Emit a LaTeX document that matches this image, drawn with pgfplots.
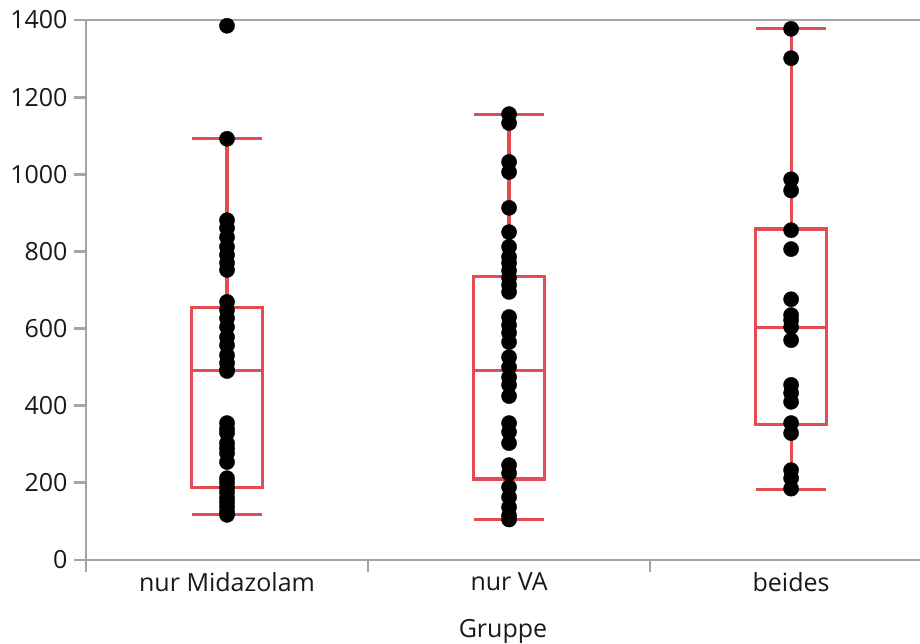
\documentclass[border=0pt]{standalone}
\usepackage{fontspec}
\setmainfont{Open Sans}
\usepackage{pgfplots}
\pgfplotsset{compat=1.18}
\usepgfplotslibrary{statistics}
\definecolor{boxred}{RGB}{226,76,82}
\definecolor{axgray}{RGB}{165,165,165}
\definecolor{txt}{RGB}{25,25,25}
\begin{document}
\begin{tikzpicture}
\begin{axis}[
  scale only axis, width=834pt, height=540pt,
  xmin=-0.5, xmax=2.457, ymin=0, ymax=1400,
  axis x line=bottom, axis y line=left,
  axis line style={axgray, line width=2.8pt, -},
  xtick={-0.5,0.5,1.5}, xticklabels={,,,},
  extra x ticks={0,1,2},
  extra x tick labels={nur Midazolam, nur VA, beides},
  extra x tick style={major tick length=0pt},
  ytick={0,200,...,1400},
  tick align=outside,
  major tick length=12pt,
  tick style={axgray, line width=2.8pt},
  every tick label/.append style={font=\fontsize{25}{30}\selectfont, text=txt},
  xticklabel style={yshift=-9pt},
  yticklabel style={xshift=-3pt},
  /pgf/number format/assume math mode=true,
  /pgf/number format/1000 sep={},
  xlabel={Gruppe},
  xlabel style={font=\fontsize{25}{30}\selectfont, text=txt,
    at={(axis description cs:0.5,0)}, anchor=base, yshift=-77pt},
  clip=false,
  boxplot/draw direction=y,
  boxplot/every box/.style={draw=boxred, line width=3.2pt},
  boxplot/every median/.style={draw=boxred, line width=3.2pt},
  wh/.style={boxred, line width=3.2pt, no marks, forget plot},
]
\draw[axgray, line width=2.8pt] (rel axis cs:0,1) -- (rel axis cs:1,1);
% dots
\addplot[only marks, mark=*, mark size=7.6pt, black] coordinates {
(0,1385) (0,1092) (0,881) (0,861) (0,837) (0,812) (0,791) (0,770) (0,752)
(0,669) (0,648) (0,627) (0,604) (0,578) (0,557) (0,531) (0,511) (0,493) (0,490)
(0,355) (0,340) (0,329) (0,303) (0,290) (0,277) (0,254) (0,212) (0,200) (0,187)
(0,175) (0,161) (0,150) (0,138) (0,125) (0,117)
};
\addplot[only marks, mark=*, mark size=7.6pt, black] coordinates {
(1,1156) (1,1133) (1,1032) (1,1006) (1,913) (1,850) (1,812) (1,786) (1,770)
(1,750) (1,731) (1,713) (1,695) (1,630) (1,609) (1,589) (1,565) (1,526) (1,500)
(1,474) (1,454) (1,425) (1,355) (1,332) (1,303) (1,246) (1,225) (1,189) (1,163)
(1,137) (1,115) (1,105)
};
\addplot[only marks, mark=*, mark size=7.6pt, black] coordinates {
(2,1377) (2,1301) (2,987) (2,958) (2,855) (2,806) (2,676) (2,635) (2,622)
(2,604) (2,570) (2,454) (2,433) (2,410) (2,355) (2,329) (2,233) (2,212) (2,185)
};
% boxes
\addplot[boxred, line width=3.2pt, boxplot prepared={draw position=0,
  lower whisker=118, lower quartile=188, median=491, upper quartile=655,
  upper whisker=1092, box extend=0.25, whisker extend=0.25}] coordinates {};
\addplot[boxred, line width=3.2pt, boxplot prepared={draw position=1,
  lower whisker=106, lower quartile=210, median=491, upper quartile=736,
  upper whisker=1156, box extend=0.25, whisker extend=0.25}] coordinates {};
\addplot[boxred, line width=3.2pt, boxplot prepared={draw position=2,
  lower whisker=183, lower quartile=351, median=602, upper quartile=858,
  upper whisker=1377, box extend=0.25, whisker extend=0.25}] coordinates {};
% whiskers and caps
\addplot[wh] coordinates {(0,655) (0,1092)};
\addplot[wh] coordinates {(0,188) (0,118)};
\addplot[wh] coordinates {(-0.125,1092) (0.125,1092)};
\addplot[wh] coordinates {(-0.125,118) (0.125,118)};
\addplot[wh] coordinates {(1,736) (1,1156)};
\addplot[wh] coordinates {(1,210) (1,106)};
\addplot[wh] coordinates {(0.875,1156) (1.125,1156)};
\addplot[wh] coordinates {(0.875,106) (1.125,106)};
\addplot[wh] coordinates {(2,858) (2,1377)};
\addplot[wh] coordinates {(2,351) (2,183)};
\addplot[wh] coordinates {(1.875,1377) (2.125,1377)};
\addplot[wh] coordinates {(1.875,183) (2.125,183)};
\end{axis}
\pgfresetboundingbox
\useasboundingbox (-86pt,-83pt) rectangle (834pt,560pt);
\end{tikzpicture}
\end{document}
